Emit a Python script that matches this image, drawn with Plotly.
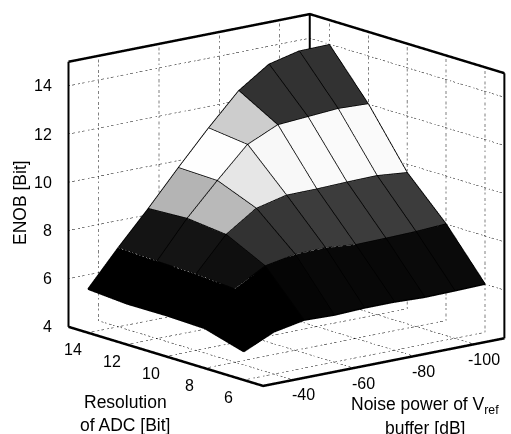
import plotly.graph_objects as go

noise = [-30, -40, -50, -60, -70, -80, -90, -100, -110]
res = [6, 8, 10, 12, 14]
enob_res6 = [5.18, 5.75, 5.99, 5.95, 6.0, 6.0, 5.95, 5.97, 6.0]
enob_res8 = [5.65, 7.03, 7.74, 7.97, 8.0, 7.88, 7.9, 7.93, 8.0]
enob_res10 = [5.7, 7.15, 8.55, 9.39, 9.69, 9.7, 9.74, 9.76, 9.64]
enob_res12 = [5.69, 7.2, 8.73, 10.05, 11.3, 11.87, 11.96, 12.05, 12.0]
enob_res14 = [5.81, 7.27, 8.65, 10.1, 11.5, 12.8, 13.65, 13.95, 13.97]
# grey level of each mesh cell (the stippled halftones of the scan)
shade_res6_8 = [0, 0, 5, 8, 8, 8, 10, 10]
shade_res8_10 = [0, 15, 50, 55, 60, 60, 60, 60]
shade_res10_12 = [0, 20, 185, 230, 248, 250, 250, 250]
shade_res12_14 = [0, 20, 180, 254, 205, 50, 50, 50]

noise_ticks = [-40, -60, -80, -100]
res_ticks = [6, 8, 10, 12, 14]
enob_ticks = [4, 6, 8, 10, 12, 14]
noise_range = [-30, -110]
res_range = [5, 15]
enob_range = [4, 15]

enob = [enob_res6, enob_res8, enob_res10, enob_res12, enob_res14]
shades = [shade_res6_8, shade_res8_10, shade_res10_12, shade_res12_14]

X, Y, Z, I, J, K, FC = [], [], [], [], [], [], []
nn, nr = len(noise), len(res)
for r in range(nr):
    for n in range(nn):
        X.append(noise[n]); Y.append(res[r]); Z.append(enob[r][n])
for r in range(nr - 1):
    for n in range(nn - 1):
        a = r * nn + n
        b = a + 1
        c = a + nn
        d = c + 1
        g = shades[r][n]
        col = f"rgb({g},{g},{g})"
        I += [a, a]; J += [b, d]; K += [d, c]; FC += [col, col]

fig = go.Figure()
fig.add_trace(go.Mesh3d(x=X, y=Y, z=Z, i=I, j=J, k=K, facecolor=FC, flatshading=True,
                        lighting=dict(ambient=1, diffuse=0, specular=0, roughness=1, fresnel=0),
                        hoverinfo="skip", showscale=False))


def line(xs, ys, zs, color="black", width=2, dash="solid"):
    fig.add_trace(go.Scatter3d(x=xs, y=ys, z=zs, mode="lines", hoverinfo="skip", showlegend=False,
                               line=dict(color=color, width=width, dash=dash)))


# mesh edges
for r in range(nr):
    line(noise, [res[r]] * nn, enob[r], width=3)
for n in range(nn):
    line([noise[n]] * nr, res, [enob[r][n] for r in range(nr)], width=3)
# pale seam along the top of the solid band
line(noise[1:], [8] * (nn - 1), enob_res8[1:], color="white", width=2, dash="dot")
line([-40] * 4, res[1:], [enob[r][1] for r in range(1, nr)], color="white", width=2, dash="dot")

n0, n1 = noise_range
r0, r1 = res_range
z0, z1 = enob_range
GRID = dict(color="black", width=1, dash="dashdot")
for t in enob_ticks[1:]:
    line([n0, n1, n1], [r1, r1, r0], [t, t, t], **GRID)
for t in noise_ticks:
    line([t, t, t], [r0, r1, r1], [z0, z0, z1], **GRID)
for t in res_ticks:
    line([n0, n1, n1], [t, t, t], [z0, z0, z1], **GRID)
# box
line([n0, n0, n1], [r1, r0, r0], [z0, z0, z0], width=5)
line([n0, n1, n1], [r1, r1, r0], [z1, z1, z1], width=5)
line([n0, n0], [r1, r1], [z0, z1], width=4)
line([n1, n1], [r0, r0], [z0, z1], width=4)
line([n1, n1], [r1, r1], [z0, z1], width=4)

FAMILY = "Liberation Sans, Arial, sans-serif"
TICKFONT = dict(family=FAMILY, size=16, color="black")
TITLEFONT = dict(family=FAMILY, size=17.5, color="black")


def axis(rng, ticks):
    pad = (rng[1] - rng[0]) * 0.004
    return dict(range=[rng[0] - pad, rng[1] + pad], tickvals=ticks, title=dict(text=""), showticklabels=False,
                showgrid=False, zeroline=False, showline=False, showbackground=False, showspikes=False,
                ticks="", ticklen=0)


scene_notes = []
for t in res_ticks:
    scene_notes.append(dict(x=n0, y=t, z=z0, text=str(t), showarrow=False, font=TICKFONT,
                            xshift=-15, yshift=-17))
for t in noise_ticks:
    scene_notes.append(dict(x=t, y=r0, z=z0, text=str(t), showarrow=False, font=TICKFONT,
                            xshift=10, yshift=-15))
for t in enob_ticks:
    scene_notes.append(dict(x=n0, y=r1, z=t, text=str(t), showarrow=False, font=TICKFONT,
                            xanchor="right", xshift=-15))

center = dict(x=-0.123, y=0.075, z=-0.076)
view = (-0.609, -0.755, 0.245)
dist = 5

fig.update_layout(
    width=511, height=434, showlegend=False, paper_bgcolor="white",
    margin=dict(l=0, r=0, t=0, b=0),
    scene=dict(
        domain=dict(x=[0, 1.0], y=[0, 1.0]),
        xaxis=axis(noise_range, noise_ticks),
        yaxis=axis(res_range, res_ticks),
        zaxis=axis(enob_range, enob_ticks),
        aspectmode="manual", aspectratio=dict(x=1.44, y=1.44, z=1.27),
        camera=dict(projection=dict(type="orthographic"),
                    center=center,
                    up=dict(x=0, y=0, z=1),
                    eye=dict(x=center["x"] + view[0] * dist,
                             y=center["y"] + view[1] * dist,
                             z=center["z"] + view[2] * dist)),
        annotations=scene_notes,
    ),
)


def note(text, x, y, **kw):
    fig.add_annotation(text=text, x=x / 511, y=1 - y / 434, xref="paper", yref="paper", xanchor="center",
                       yanchor="middle", showarrow=False, font=TITLEFONT, **kw)


note("ENOB [Bit]", 20, 203, textangle=-90)
note("Resolution", 125, 402)
note("of ADC [Bit]", 125, 425)
note("Noise power of V<sub>ref</sub>", 425, 405)
note("buffer [dB]", 425, 428)

fig.write_html("out.html", config=dict(displayModeBar=False),
               post_script="document.body.style.margin='0';document.documentElement.style.overflow='hidden';")
